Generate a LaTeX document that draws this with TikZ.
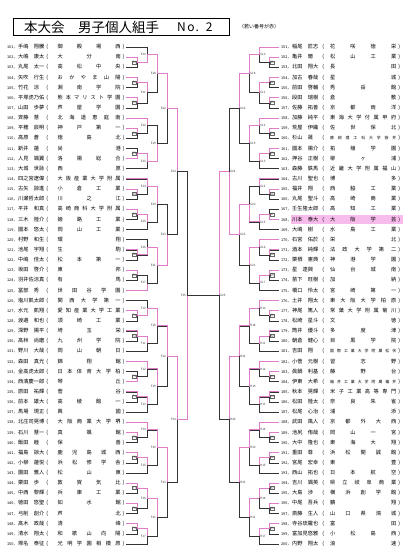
\documentclass[tikz,border=0pt]{standalone}
\usepackage{fontspec}
\setmainfont{Noto Sans CJK JP}
\usetikzlibrary{calc}
\definecolor{pinkc}{HTML}{E07CC8}
\definecolor{hlc}{HTML}{F7BCEC}
\def\sprd#1{\sprdA#1\relax}
\def\sprdA#1{#1\sprdB}
\def\sprdB#1{\ifx\relax#1\else\hfil#1\expandafter\sprdB\fi}
\newcommand\pfs{\fontsize{5.2}{5.2}\selectfont}
\newcommand\nfs{\fontsize{3.8}{3.8}\selectfont}
\newcommand\sfs{\fontsize{3.9}{3.9}\selectfont}
% left player: num, name, school, index, school font
\newcommand\pL[5][\pfs]{%
  \node[plyr,anchor=west] (p#2) at (4,{47+10.14*#5})
   {\makebox[13pt][r]{\nfs #2，}\hspace{1pt}\makebox[26pt][l]{#3}\makebox[6pt][c]{(}\hspace{7.5pt}\makebox[63pt][s]{#1\sprd{#4}}\makebox[5.5pt][c]{)}};
  \coordinate (c#2) at (p#2.east);}
\newcommand\pR[5][\pfs]{%
  \node[plyr,anchor=west] (p#2) at (279,{47+10.14*#5})
   {\makebox[12pt][r]{\nfs #2，}\hspace{1pt}\makebox[28pt][l]{#3}\makebox[6pt][c]{(}\hspace{4pt}\makebox[66pt][s]{#1\sprd{#4}}\makebox[6pt][c]{)}};
  \coordinate (c#2) at (p#2.west);}
% match: name, x-marker, top, bottom, winner (1/2/0), label style
\newcommand\mt[6]{%
  \coordinate (#1) at ($(#3 -| #2)!.5!(#4 -| #2)$);
  \draw[br] (#3) -- (#3 -| #2) -- (#4 -| #2) -- (#4);
  \ifnum#5=1 \draw[win] (#3) -- (#3 -| #2) -- (#1);\fi
  \ifnum#5=2 \draw[win] (#4) -- (#4 -| #2) -- (#1);\fi
  \node[#6] (l#1) at (#1) {#1};}
\begin{document}
\begin{tikzpicture}[x=1pt,y=-1pt,
  plyr/.style={inner sep=0pt,font=\pfs},
  br/.style={draw=black!80,line width=0.45pt},
  win/.style={draw=pinkc,line width=0.9pt},
  lab/.style={inner sep=0.4pt,font=\fontsize{3}{3}\selectfont,text=black!75},
  labL/.style={lab,anchor=east,xshift=-0.5pt},
  labR/.style={lab,anchor=west,xshift=0.5pt},
  labLb/.style={labL,draw=black!60,line width=0.25pt},
  labRb/.style={labR,draw=black!60,line width=0.25pt}]
\useasboundingbox (0,0) rectangle (404,553);
\fill[white] (0,0) rectangle (404,553);
% title
\node[draw=black,line width=0.7pt,anchor=north west,minimum width=216pt,minimum height=17pt,inner sep=0pt] (title) at (13,18) {};
\node[anchor=west,inner sep=0pt,font=\fontsize{13.5}{13.5}\selectfont] (ttl) at (24,27) {本大会　男子個人組手};
\node[anchor=west,inner sep=0pt,font=\fontsize{12}{12}\selectfont] (tno) at (177,27.5) {N\hspace{1.5pt}o\hspace{1pt}.\hspace{7pt}2};
\node[anchor=west,inner sep=0pt,font=\fontsize{5}{5}\selectfont] (note) at (239,27) {（若い番号が赤）};
% highlight
\fill[hlc] (291,{47+10.14*17-4.3}) rectangle (403,{47+10.14*17+4.3});
% markers
\coordinate (L1) at (137,0);\coordinate (L2) at (147,0);\coordinate (L3) at (157,0);
\coordinate (L4) at (167,0);\coordinate (L5) at (177,0);\coordinate (L6) at (187,0);
\coordinate (R1) at (269,0);\coordinate (R2) at (259,0);\coordinate (R3) at (249,0);
\coordinate (R4) at (239,0);\coordinate (R5) at (229,0);\coordinate (R6) at (219,0);
% left players
\pL{101}{手嶋　翔騰}{御殿場西}{0}
\pL{102}{大嶋　康太}{大分南}{1}
\pL{103}{丸尾　太一}{高松中央}{2}
\pL{104}{矢吹　行生}{おかやま山陽}{3}
\pL{105}{竹花　涼}{湘南学院}{4}
\pL{106}{平塚虎乃佑}{熊本マリスト学園}{5}
\pL{107}{山田　歩夢}{芦屋学園}{6}
\pL{108}{斉藤　慧}{北海道恵庭南}{7}
\pL{109}{平穂　辰明}{神戸第一}{8}
\pL{110}{高原　蒼}{徳島北}{9}
\pL{111}{新井　蓮}{尚港}{10}
\pL{112}{人見　颯翼}{洛陽総合}{11}
\pL{113}{大城　世詠}{西原}{12}
\pL{114}{四之宮遼偉}{大阪産業大学附属}{13}
\pL{115}{古矢　諒進}{小倉工業}{14}
\pL{116}{川瀬哲太郎}{川之江}{15}
\pL{117}{平井　和真}{高崎商科大学附属}{16}
\pL{118}{三木　陸介}{姫路工業}{17}
\pL{119}{國本　悠太}{岡山工業}{18}
\pL{120}{村野　和生}{環翔}{19}
\pL{121}{池尾　宇翔}{生駒}{20}
\pL{122}{中嶋　佳太}{松本第一}{21}
\pL{123}{坂田　啓介}{東邦}{22}
\pL{124}{羽井佐涼真}{有馬}{23}
\pL{125}{冨部　秀}{世田谷学園}{24}
\pL{126}{塩川凱太郎}{関西大学第一}{25}
\pL{127}{水元　凱翔}{愛知産業大学工業}{26}
\pL{128}{渡邉　和也}{須崎工業}{27}
\pL{129}{深野　陽平}{埼玉栄}{28}
\pL{130}{髙林　尚磨}{九州学院}{29}
\pL{131}{野川　大哉}{岡山朝日}{30}
\pL{132}{森田　真光}{錦翔館}{31}
\pL{133}{金高虎太郎}{日本体育大学柏}{32}
\pL{134}{西濱慶一郎}{琴丘}{33}
\pL{135}{原田　祐輝}{菅谷}{34}
\pL{136}{前本　雄大}{高稜館一}{35}
\pL{137}{馬場　現正}{興國}{36}
\pL{138}{北庄司晃博}{大阪商業大学堺}{37}
\pL{139}{石川　慧一}{真颯館}{38}
\pL{140}{飯田　睦}{保善}{39}
\pL{141}{福島　諒大}{鹿児島城西}{40}
\pL{142}{小柳　蓮悦}{浜松修学舎}{41}
\pL{143}{園田　雅人}{松山東}{42}
\pL{144}{栗田　歩}{敦賀気比}{43}
\pL{145}{中西　黎輝}{兵庫工業}{44}
\pL{146}{徳田　悠聖}{如水館}{45}
\pL{147}{弓削　創介}{芦北}{46}
\pL{148}{髙木　政哉}{清峰}{47}
\pL{149}{清水　翔太}{和歌山向陽}{48}
\pL{150}{塚名　泰征}{光明学園相模原}{49}
% right players
\pR{151}{稲尾　匠志}{花咲徳栄}{0}
\pR{152}{亀井　爾}{松山工業}{1}
\pR{153}{北田　翔大}{長田}{2}
\pR{154}{加古　春哉}{星城}{3}
\pR{155}{前田　啓輔}{秀岳館}{4}
\pR{156}{段田　瑞樹}{倉敷}{5}
\pR{157}{佐藤　拓善}{京都両洋}{6}
\pR{158}{加藤　純平}{東海大学付属甲府}{7}
\pR{159}{荒屋　伊織}{佐世保北}{8}
\pR[\sfs]{160}{杉山　晟}{静岡理工科大学袋井}{9}
\pR{161}{國本　陽介}{拓殖学園}{10}
\pR{162}{押谷　正樹}{柳ヶ浦}{11}
\pR{163}{森藤　鉄馬}{近畿大学附属福山}{12}
\pR{164}{古川　聖也}{博多}{13}
\pR{165}{福井　翔}{西脇工業}{14}
\pR{166}{丸尾　聖斗}{高崎商業}{15}
\pR{167}{壬生隆太郎}{高知工業}{16}
\pR{168}{川本　泰大}{大阪学芸}{17}
\pR{169}{大嶋　樹}{水島工業}{18}
\pR{170}{石宮　佑於}{栄北}{19}
\pR{171}{酒本　純輝}{法政大学第二}{20}
\pR{172}{栗栖　憲典}{神港学園}{21}
\pR{173}{星　達興}{仙台城南}{22}
\pR{174}{苗下　旺樹}{加納}{23}
\pR{175}{橋口　怜太}{宮崎第一}{24}
\pR{176}{土井　翔太}{東大阪大学柏原}{25}
\pR{177}{神尾　篤人}{常葉大学附属菊川}{26}
\pR{178}{松崎　星斗}{文徳}{27}
\pR{179}{筒井　優斗}{多度津}{28}
\pR{180}{朝倉　健心}{目黒学院}{29}
\pR[\sfs]{181}{吉田　翔}{国際工業大学附属松伏}{30}
\pR{182}{小菅　元樹}{習志野}{31}
\pR{183}{眞鍋　利基}{藤野台}{32}
\pR[\sfs]{184}{伊東　大希}{福井工業大学附属福井}{33}
\pR{185}{秋本　晃輝}{米子工業高等専門}{34}
\pR{186}{松田　陸太}{奈良朱雀}{35}
\pR{187}{松尾　心治}{浦添}{36}
\pR{188}{武田　風人}{京都外大西}{37}
\pR{189}{池尻　侑哉}{岡山一宮}{38}
\pR{190}{大中　隆也}{東海大翔}{39}
\pR{191}{重田　尊}{浜松開誠館}{40}
\pR{192}{宮尾　宏幸}{東豊}{41}
\pR{193}{西山　拓也}{日本航空}{42}
\pR{194}{吉川　颯英}{県立岐阜商業}{43}
\pR{195}{大島　渉}{横浜創学館}{44}
\pR{196}{中尾　吾兵}{鵬翔}{45}
\pR{197}{斎藤　生人}{山口県鴻城}{46}
\pR{198}{寺谷琉羅也}{富田}{47}
\pR{199}{富加見悠雅}{小松島西}{48}
\pR{200}{内野　翔太}{浪速}{49}
% E block
\mt{E1}{L1}{c102}{c103}{1}{labLb}
\mt{E2}{L1}{c104}{c105}{1}{labLb}
\mt{E3}{L1}{c106}{c107}{1}{labLb}
\mt{E4}{L1}{c109}{c110}{1}{labLb}
\mt{E5}{L1}{c111}{c112}{2}{labLb}
\mt{E6}{L1}{c115}{c116}{1}{labLb}
\mt{E7}{L1}{c117}{c118}{1}{labLb}
\mt{E8}{L1}{c121}{c122}{1}{labLb}
\mt{E9}{L1}{c123}{c124}{1}{labLb}
\mt{E10}{L2}{c101}{E1}{2}{labL}
\mt{E11}{L2}{E2}{E3}{1}{labL}
\mt{E12}{L2}{c108}{E4}{1}{labL}
\mt{E13}{L2}{E5}{c113}{1}{labL}
\mt{E14}{L2}{c114}{E6}{1}{labL}
\mt{E15}{L2}{E7}{c119}{1}{labL}
\mt{E16}{L2}{c120}{E8}{2}{labL}
\mt{E17}{L2}{E9}{c125}{2}{labL}
\mt{E18}{L3}{E10}{E11}{1}{labL}
\mt{E19}{L3}{E12}{E13}{2}{labL}
\mt{E20}{L3}{E14}{E15}{1}{labL}
\mt{E21}{L3}{E16}{E17}{1}{labL}
\mt{E22}{L4}{E18}{E19}{1}{labL}
\mt{E23}{L4}{E20}{E21}{2}{labL}
\mt{E24}{L5}{E22}{E23}{1}{labL}
% F block
\mt{F1}{L1}{c127}{c128}{1}{labLb}
\mt{F2}{L1}{c129}{c130}{1}{labLb}
\mt{F3}{L1}{c133}{c134}{2}{labLb}
\mt{F4}{L1}{c135}{c136}{1}{labLb}
\mt{F5}{L1}{c139}{c140}{1}{labLb}
\mt{F6}{L1}{c141}{c142}{1}{labLb}
\mt{F7}{L1}{c144}{c145}{1}{labLb}
\mt{F8}{L1}{c146}{c147}{1}{labLb}
\mt{F9}{L1}{c148}{c149}{1}{labLb}
\mt{F10}{L2}{c126}{F1}{2}{labL}
\mt{F11}{L2}{F2}{c131}{1}{labL}
\mt{F12}{L2}{c132}{F3}{1}{labL}
\mt{F13}{L2}{F4}{c137}{1}{labL}
\mt{F14}{L2}{c138}{F5}{1}{labL}
\mt{F15}{L2}{F6}{c143}{1}{labL}
\mt{F16}{L2}{F7}{F8}{1}{labL}
\mt{F17}{L2}{F9}{c150}{1}{labL}
\mt{F18}{L3}{F10}{F11}{1}{labL}
\mt{F19}{L3}{F12}{F13}{1}{labL}
\mt{F20}{L3}{F14}{F15}{1}{labL}
\mt{F21}{L3}{F16}{F17}{1}{labL}
\mt{F22}{L4}{F18}{F19}{1}{labL}
\mt{F23}{L4}{F20}{F21}{1}{labL}
\mt{F24}{L5}{F22}{F23}{1}{labL}
\mt{F25}{L6}{E24}{F24}{2}{labL}
% G block
\mt{G1}{R1}{c152}{c153}{1}{labRb}
\mt{G2}{R1}{c154}{c155}{1}{labRb}
\mt{G3}{R1}{c156}{c157}{1}{labRb}
\mt{G4}{R1}{c159}{c160}{1}{labRb}
\mt{G5}{R1}{c161}{c162}{1}{labRb}
\mt{G6}{R1}{c165}{c166}{1}{labRb}
\mt{G7}{R1}{c167}{c168}{2}{labRb}
\mt{G8}{R1}{c171}{c172}{1}{labRb}
\mt{G9}{R1}{c173}{c174}{1}{labRb}
\mt{G10}{R2}{c151}{G1}{1}{labR}
\mt{G11}{R2}{G2}{G3}{1}{labR}
\mt{G12}{R2}{c158}{G4}{1}{labR}
\mt{G13}{R2}{G5}{c163}{1}{labR}
\mt{G14}{R2}{c164}{G6}{1}{labR}
\mt{G15}{R2}{G7}{c169}{1}{labR}
\mt{G16}{R2}{c170}{G8}{1}{labR}
\mt{G17}{R2}{G9}{c175}{1}{labR}
\mt{G18}{R3}{G10}{G11}{1}{labR}
\mt{G19}{R3}{G12}{G13}{1}{labR}
\mt{G20}{R3}{G14}{G15}{2}{labR}
\mt{G21}{R3}{G16}{G17}{1}{labR}
\mt{G22}{R4}{G18}{G19}{1}{labR}
\mt{G23}{R4}{G20}{G21}{1}{labR}
\mt{G24}{R5}{G22}{G23}{2}{labR}
% H block
\mt{H1}{R1}{c177}{c178}{1}{labRb}
\mt{H2}{R1}{c179}{c180}{1}{labRb}
\mt{H3}{R1}{c183}{c184}{1}{labRb}
\mt{H4}{R1}{c185}{c186}{1}{labRb}
\mt{H5}{R1}{c189}{c190}{1}{labRb}
\mt{H6}{R1}{c191}{c192}{1}{labRb}
\mt{H7}{R1}{c194}{c195}{1}{labRb}
\mt{H8}{R1}{c196}{c197}{1}{labRb}
\mt{H9}{R1}{c198}{c199}{1}{labRb}
\mt{H10}{R2}{c176}{H1}{1}{labR}
\mt{H11}{R2}{H2}{c181}{1}{labR}
\mt{H12}{R2}{c182}{H3}{1}{labR}
\mt{H13}{R2}{H4}{c187}{1}{labR}
\mt{H14}{R2}{c188}{H5}{1}{labR}
\mt{H15}{R2}{H6}{c193}{1}{labR}
\mt{H16}{R2}{H7}{H8}{1}{labR}
\mt{H17}{R2}{H9}{c200}{1}{labR}
\mt{H18}{R3}{H10}{H11}{1}{labR}
\mt{H19}{R3}{H12}{H13}{1}{labR}
\mt{H20}{R3}{H14}{H15}{1}{labR}
\mt{H21}{R3}{H16}{H17}{1}{labR}
\mt{H22}{R4}{H18}{H19}{1}{labR}
\mt{H23}{R4}{H20}{H21}{1}{labR}
\mt{H24}{R5}{H22}{H23}{1}{labR}
\mt{G25}{R6}{G24}{H24}{1}{labR}
% final
\draw[br] (F25) -- (G25);
\end{tikzpicture}
\end{document}
